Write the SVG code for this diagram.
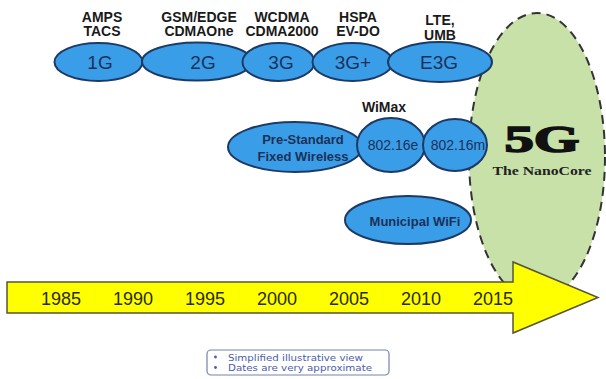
<svg xmlns="http://www.w3.org/2000/svg" width="606" height="379" viewBox="0 0 606 379">
<style>
.bub{fill:#3a9de8;stroke:#1d3a66;stroke-width:2}
.lbl{font-family:"Liberation Sans",Arial,sans-serif;fill:#1b3158;text-anchor:middle}
.top{font-family:"Liberation Sans",Arial,sans-serif;font-weight:bold;font-size:14px;fill:#1a1a1a;text-anchor:middle}
.yr{font-family:"Liberation Sans",Arial,sans-serif;font-size:18px;fill:#2a2a10;text-anchor:middle}
.note{font-family:"DejaVu Sans",Verdana,sans-serif;font-size:9.5px;fill:#4a5ca6}
</style>
<rect width="606" height="379" fill="#ffffff"/>
<g id="g5">
<ellipse cx="537" cy="157" rx="68" ry="144" fill="#c7e1a8" stroke="#333333" stroke-width="2" stroke-dasharray="9 6"/>
<text x="542" y="152" font-family="'Liberation Serif','Times New Roman',serif" font-weight="bold" font-size="37" fill="#111111" stroke="#111111" stroke-width="1.6" text-anchor="middle" textLength="75" lengthAdjust="spacingAndGlyphs">5G</text>
<text x="542" y="175" font-family="'Liberation Serif','Times New Roman',serif" font-weight="bold" font-size="13.5" fill="#222222" text-anchor="middle" textLength="99" lengthAdjust="spacingAndGlyphs">The NanoCore</text>
</g>
<g id="timeline">
<path d="M7 282 H513 V262 L598 297.5 L513 333 V313 H7 Z" fill="#ffff00" stroke="#55553a" stroke-width="1.5"/>
<text class="yr" x="61" y="305">1985</text>
<text class="yr" x="133" y="305">1990</text>
<text class="yr" x="205" y="305">1995</text>
<text class="yr" x="277" y="305">2000</text>
<text class="yr" x="349" y="305">2005</text>
<text class="yr" x="421" y="305">2010</text>
<text class="yr" x="493" y="305">2015</text>
</g>
<g id="g1">
<ellipse class="bub" cx="98.5" cy="62" rx="44" ry="19"/>
<text class="lbl" x="100" y="69" font-size="19">1G</text>
<text class="top" x="102" y="21.5">AMPS</text>
<text class="top" x="102" y="36">TACS</text>
</g>
<g id="g2">
<ellipse class="bub" cx="197" cy="61.5" rx="55" ry="19"/>
<text class="lbl" x="203" y="69" font-size="19">2G</text>
<text class="top" x="199" y="21.5">GSM/EDGE</text>
<text class="top" x="199" y="36">CDMAOne</text>
</g>
<g id="g3">
<ellipse class="bub" cx="278.5" cy="62" rx="36" ry="19"/>
<text class="lbl" x="281" y="69" font-size="19">3G</text>
<text class="top" x="282" y="21.5">WCDMA</text>
<text class="top" x="282" y="36">CDMA2000</text>
</g>
<g id="g3plus">
<ellipse class="bub" cx="352.5" cy="62" rx="40" ry="19"/>
<text class="lbl" x="353" y="69" font-size="19">3G+</text>
<text class="top" x="358" y="21.5">HSPA</text>
<text class="top" x="358" y="36">EV-DO</text>
</g>
<g id="e3g">
<ellipse class="bub" cx="440" cy="62" rx="52" ry="20"/>
<text class="lbl" x="439" y="69" font-size="19">E3G</text>
<text class="top" x="440" y="25">LTE,</text>
<text class="top" x="440" y="40">UMB</text>
</g>
<g id="prestd">
<ellipse class="bub" cx="295" cy="147" rx="67" ry="25"/>
<text class="lbl" x="303" y="144" font-size="13" font-weight="bold">Pre-Standard</text>
<text class="lbl" x="303" y="161" font-size="13" font-weight="bold">Fixed Wireless</text>
</g>
<g id="wimax16e">
<ellipse class="bub" cx="391" cy="145" rx="34" ry="27"/>
<text class="lbl" x="393" y="150" font-size="14">802.16e</text>
<text class="top" x="384" y="112" font-size="13">WiMax</text>
</g>
<g id="wimax16m">
<ellipse class="bub" cx="455" cy="145" rx="32" ry="26"/>
<text class="lbl" x="458" y="150" font-size="14">802.16m</text>
</g>
<g id="muni">
<ellipse class="bub" cx="408" cy="220" rx="63" ry="24"/>
<text class="lbl" x="415" y="226" font-size="13" font-weight="bold">Municipal WiFi</text>
</g>
<g id="connectors"></g>
<g id="note">
<rect x="207" y="350" width="182" height="25" rx="4" fill="#ffffff" stroke="#7484a6" stroke-width="1.2"/>
<circle cx="215.5" cy="357" r="1.4" fill="#4a5ca6"/>
<circle cx="215.5" cy="367.5" r="1.4" fill="#4a5ca6"/>
<text class="note" x="228" y="360.5" textLength="135" lengthAdjust="spacingAndGlyphs">Simplified illustrative view</text>
<text class="note" x="228" y="371" textLength="144" lengthAdjust="spacingAndGlyphs">Dates are very approximate</text>
</g>
</svg>
